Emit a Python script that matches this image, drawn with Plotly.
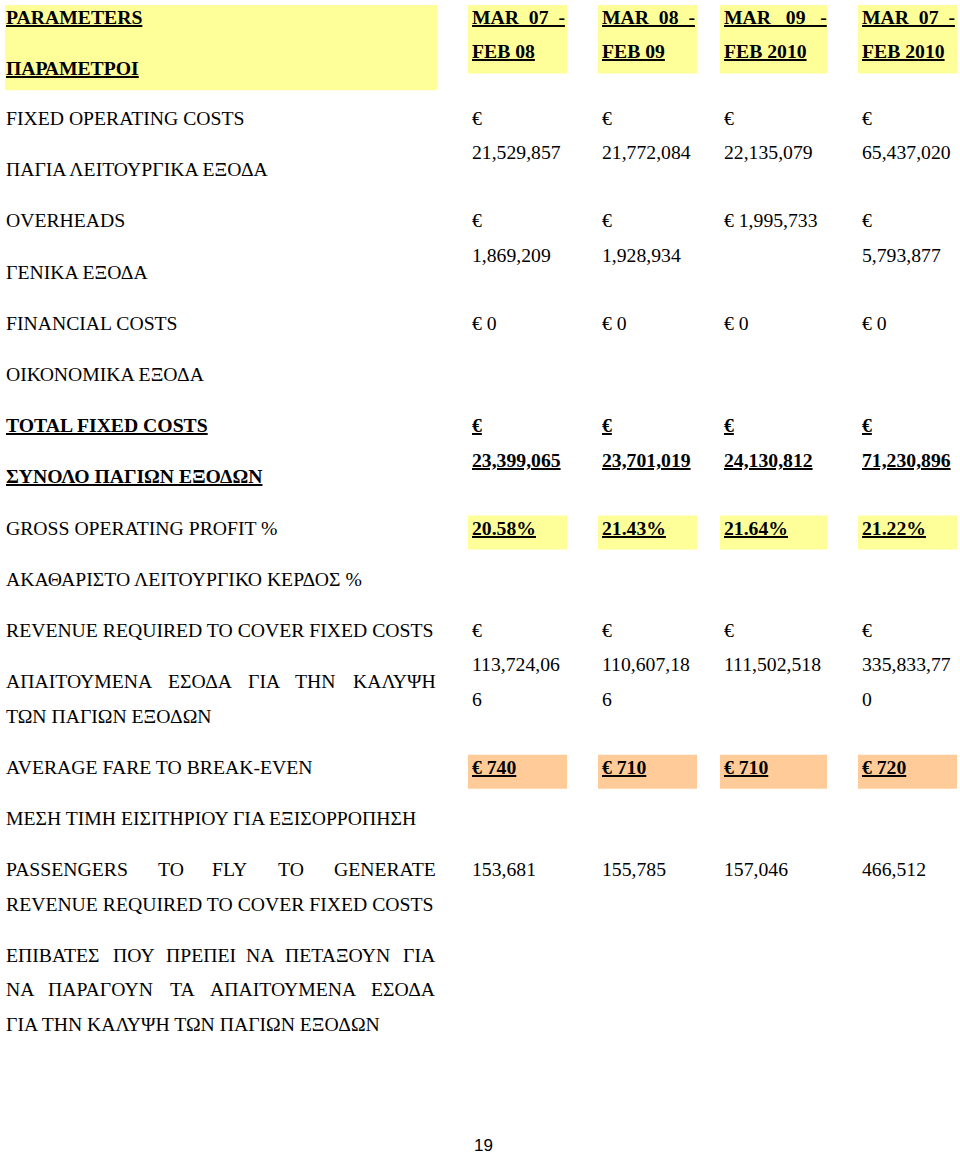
import plotly.graph_objects as go

# ---------------- data ----------------
header_params = ["PARAMETERS", "ΠΑΡΑΜΕΤΡΟΙ"]
period_line1 = ["MAR 07 -", "MAR 08 -", "MAR 09 -", "MAR 07 -"]
period_line2 = ["FEB 08", "FEB 09", "FEB 2010", "FEB 2010"]

labels_en = ["FIXED OPERATING COSTS", "OVERHEADS", "FINANCIAL COSTS", "TOTAL FIXED COSTS",
             "GROSS OPERATING PROFIT %", "REVENUE REQUIRED TO COVER FIXED COSTS",
             "AVERAGE FARE TO BREAK-EVEN",
             "PASSENGERS TO FLY TO GENERATE\nREVENUE REQUIRED TO COVER FIXED COSTS"]
labels_gr = ["ΠΑΓΙΑ ΛΕΙΤΟΥΡΓΙΚΑ ΕΞΟΔΑ", "ΓΕΝΙΚΑ ΕΞΟΔΑ", "ΟΙΚΟΝΟΜΙΚΑ ΕΞΟΔΑ",
             "ΣΥΝΟΛΟ ΠΑΓΙΩΝ ΕΞΟΔΩΝ", "ΑΚΑΘΑΡΙΣΤΟ ΛΕΙΤΟΥΡΓΙΚΟ ΚΕΡΔΟΣ %",
             "ΑΠΑΙΤΟΥΜΕΝΑ ΕΣΟΔΑ ΓΙΑ ΤΗΝ ΚΑΛΥΨΗ\nΤΩΝ ΠΑΓΙΩΝ ΕΞΟΔΩΝ",
             "ΜΕΣΗ ΤΙΜΗ ΕΙΣΙΤΗΡΙΟΥ ΓΙΑ ΕΞΙΣΟΡΡΟΠΗΣΗ",
             "ΕΠΙΒΑΤΕΣ ΠΟΥ ΠΡΕΠΕΙ ΝΑ ΠΕΤΑΞΟΥΝ ΓΙΑ\nΝΑ ΠΑΡΑΓΟΥΝ ΤΑ ΑΠΑΙΤΟΥΜΕΝΑ ΕΣΟΔΑ\nΓΙΑ ΤΗΝ ΚΑΛΥΨΗ ΤΩΝ ΠΑΓΙΩΝ ΕΞΟΔΩΝ"]

fixed_operating_costs = [21529857, 21772084, 22135079, 65437020]
overheads = [1869209, 1928934, 1995733, 5793877]
financial_costs = [0, 0, 0, 0]
total_fixed_costs = [23399065, 23701019, 24130812, 71230896]
gross_profit_pct = [20.58, 21.43, 21.64, 21.22]
revenue_required = [113724066, 110607186, 111502518, 335833770]
average_fare = [740, 710, 710, 720]
passengers_required = [153681, 155785, 157046, 466512]
page_number = "19"

# ---------------- styling / layout ----------------
W, H = 960, 1155
FONT = "Liberation Serif"
FS = 19.7
YELLOW = "#FFFF99"
PEACH = "#FFCC99"
LEFT_X0, LEFT_X1 = 6, 436
COL_X0 = [468, 598, 720, 858]
COL_X1 = [567, 697, 827, 957]
COL_CHARS = [10, 10, 11, 10]
LINE = 34.4
PARA = 51.2
TOP_Y = 17

euro = lambda v: "€ {:,}".format(v)
pct = lambda v: "{:.2f}%".format(v)
num = lambda v: "{:,}".format(v)

rows = [
    (fixed_operating_costs, euro, False, None),
    (overheads, euro, False, None),
    (financial_costs, euro, False, None),
    (total_fixed_costs, euro, True, None),
    (gross_profit_pct, pct, True, YELLOW),
    (revenue_required, euro, False, None),
    (average_fare, euro, True, PEACH),
    (passengers_required, num, False, None),
]

# approximate Times glyph widths (em) for justification
WID = {' ': .25, ',': .25, '.': .25, '%': .833, '-': .333, '€': .5,
       'A': .722, 'B': .667, 'C': .667, 'D': .722, 'E': .611, 'F': .556, 'G': .722,
       'H': .722, 'I': .333, 'J': .389, 'K': .722, 'L': .611, 'M': .889, 'N': .722,
       'O': .722, 'P': .556, 'Q': .722, 'R': .667, 'S': .556, 'T': .611, 'U': .722,
       'V': .722, 'W': .944, 'X': .722, 'Y': .722, 'Z': .611,
       'Α': .722, 'Β': .667, 'Γ': .578, 'Δ': .643, 'Ε': .611, 'Ζ': .611, 'Η': .722,
       'Θ': .722, 'Ι': .333, 'Κ': .722, 'Λ': .704, 'Μ': .889, 'Ν': .722, 'Ξ': .643,
       'Ο': .722, 'Π': .722, 'Ρ': .556, 'Σ': .596, 'Τ': .611, 'Υ': .722, 'Φ': .763,
       'Χ': .722, 'Ψ': .778, 'Ω': .768}


def text_width(s):
    return sum(WID.get(c, .5) for c in s) * FS


def wrap(s, n):
    lines, cur = [], ""
    for w in s.split(" "):
        cand = w if not cur else cur + " " + w
        if len(cand) <= n:
            cur = cand
        else:
            if cur:
                lines.append(cur)
            while len(w) > n:
                lines.append(w[:n])
                w = w[n:]
            cur = w
    if cur:
        lines.append(cur)
    return lines


fig = go.Figure()
ann = []
shapes = []


def add_text(x, y, t, bold=False, underline=False, anchor="left", size=FS, family=FONT):
    if underline:
        t = "<u>" + t + "</u>"
    if bold:
        t = "<b>" + t + "</b>"
    ann.append(dict(x=x, y=y, xref="x", yref="y", text=t, showarrow=False,
                    xanchor=anchor, yanchor="middle", borderpad=0, borderwidth=0,
                    font=dict(family=family, size=size, color="black")))


def add_justified(line, y, x0, x1):
    words = line.split(" ")
    total = sum(text_width(w) for w in words)
    gap = (x1 - x0 - total) / (len(words) - 1)
    x = x0
    for i, w in enumerate(words):
        if i == len(words) - 1:
            add_text(x1, y, w, anchor="right")
        else:
            add_text(x, y, w)
        x += text_width(w) + gap


def add_rect(x0, x1, y_first, y_last, color):
    shapes.append(dict(type="rect", xref="x", yref="y", x0=x0, x1=x1,
                       y0=y_first - 12, y1=y_last + 22, fillcolor=color,
                       line=dict(width=0), layer="below"))


def padded(line, width):
    words = line.split(" ")
    total = sum(text_width(w) for w in words)
    sp = WID[' '] * FS
    n = max(1, round((width - total) / sp / (len(words) - 1)))
    return ("\u00a0" * n).join(words)


# ---- header ----
add_rect(5, 437, TOP_Y, TOP_Y + PARA, YELLOW)
add_text(LEFT_X0, TOP_Y, header_params[0], bold=True, underline=True)
add_text(LEFT_X0, TOP_Y + PARA, header_params[1], bold=True, underline=True)
for c in range(4):
    add_rect(COL_X0[c], COL_X1[c], TOP_Y, TOP_Y + LINE, YELLOW)
    tx = COL_X0[c] + 4
    add_text(tx, TOP_Y, padded(period_line1[c], COL_X1[c] - COL_X0[c] - 6), bold=True, underline=True)
    add_text(tx, TOP_Y + LINE, period_line2[c], bold=True, underline=True)

# ---- body ----
y = 118
for r, (vals, fmt, bold, bg) in enumerate(rows):
    row_y = y
    # values
    for c in range(4):
        lines = wrap(fmt(vals[c]), COL_CHARS[c])
        if bg:
            add_rect(COL_X0[c], COL_X1[c], row_y, row_y + LINE * (len(lines) - 1), bg)
        for k, ln in enumerate(lines):
            add_text(COL_X0[c] + 4, row_y + k * LINE, ln.replace(" ", "\u00a0"),
                     bold=bold, underline=bold)
    # labels (English then Greek)
    for label in (labels_en[r], labels_gr[r]):
        parts = label.split("\n")
        for k, ln in enumerate(parts):
            ly = y + k * LINE
            if k < len(parts) - 1:
                add_justified(ln, ly, LEFT_X0, LEFT_X1)
            else:
                add_text(LEFT_X0, ly, ln, bold=(r == 3), underline=(r == 3))
        y = y + (len(parts) - 1) * LINE + PARA

add_text(483, 1145, page_number, anchor="center", size=17, family="Liberation Sans")

fig.update_layout(
    width=W, height=H, margin=dict(l=0, r=0, t=0, b=0),
    paper_bgcolor="white", plot_bgcolor="white", showlegend=False,
    xaxis=dict(range=[0, W], visible=False, fixedrange=True),
    yaxis=dict(range=[H, 0], visible=False, fixedrange=True),
    annotations=ann, shapes=shapes,
)
fig.write_html("out.html", config={"displayModeBar": False},
               post_script="document.body.style.margin='0px';document.body.style.overflow='hidden';")
